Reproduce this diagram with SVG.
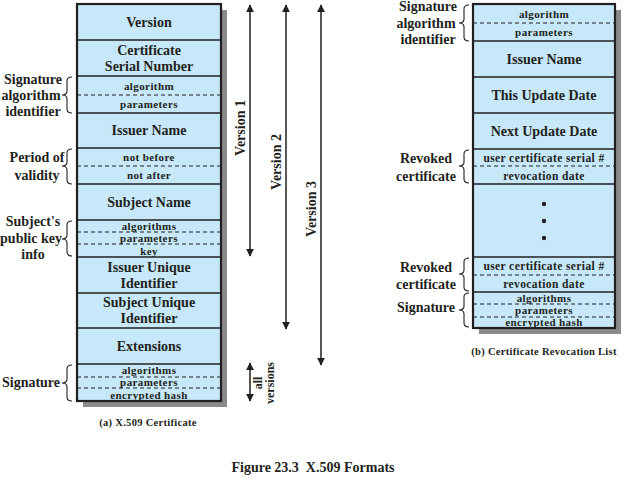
<svg xmlns="http://www.w3.org/2000/svg" width="625" height="481" viewBox="0 0 625 481">
<style>
.bg{fill:#ffffff}
.shadow{fill:#8a8a8a}
.cell{fill:#c6e8f8;stroke:none}
.outline{fill:none;stroke:#231f20;stroke-width:2.2}
.sep{stroke:#231f20;stroke-width:1.6}
.dash{stroke:#231f20;stroke-width:1.1;stroke-dasharray:4,3}
.t{font-family:"Liberation Serif","Times New Roman",serif;font-weight:bold;fill:#231f20;text-anchor:middle}
.big{font-size:14px}
.sm{font-size:11px;letter-spacing:0.4px}
.md{font-size:11.5px;letter-spacing:0.4px}
.lbl{font-size:14px}
.cap{font-size:10.5px;letter-spacing:0.3px}
.fig{font-size:14px}
.brace{fill:none;stroke:#231f20;stroke-width:1.1}
.arr{stroke:#231f20;stroke-width:1.5;fill:none}
</style>
<defs>
<marker id="ah" viewBox="0 0 10 10" refX="9" refY="5" markerWidth="8" markerHeight="8" markerUnits="userSpaceOnUse" orient="auto-start-reverse">
<path d="M0,0 L10,5 L0,10 z" fill="#231f20"/>
</marker>
</defs>
<rect class="bg" x="0" y="0" width="625" height="481"/>

<!-- Left: X.509 Certificate -->
<rect class="shadow" x="83" y="10" width="144" height="397"/>
<g id="cert-version"><rect class="cell" x="77" y="4" width="144" height="36"/><text class="t big" x="149" y="27">Version</text></g>
<g id="cert-serial"><rect class="cell" x="77" y="40" width="144" height="36"/><text class="t big" x="149" y="55">Certificate</text><text class="t big" x="149" y="71">Serial Number</text></g>
<g id="cert-sigalg"><rect class="cell" x="77" y="76" width="144" height="37"/><text class="t sm" x="149" y="90">algorithm</text><text class="t sm" x="149" y="108">parameters</text></g>
<g id="cert-issuer"><rect class="cell" x="77" y="113" width="144" height="35"/><text class="t big" x="149" y="135">Issuer Name</text></g>
<g id="cert-validity"><rect class="cell" x="77" y="148" width="144" height="36"/><text class="t sm" x="149" y="161">not before</text><text class="t sm" x="149" y="179">not after</text></g>
<g id="cert-subject"><rect class="cell" x="77" y="184" width="144" height="36"/><text class="t big" x="149" y="207">Subject Name</text></g>
<g id="cert-pubkey"><rect class="cell" x="77" y="220" width="144" height="37"/><text class="t sm" x="149" y="230">algorithms</text><text class="t sm" x="149" y="242">parameters</text><text class="t sm" x="149" y="255">key</text></g>
<g id="cert-issuerid"><rect class="cell" x="77" y="257" width="144" height="36"/><text class="t big" x="149" y="272">Issuer Unique</text><text class="t big" x="149" y="288">Identifier</text></g>
<g id="cert-subjectid"><rect class="cell" x="77" y="293" width="144" height="35"/><text class="t big" x="149" y="307">Subject Unique</text><text class="t big" x="149" y="323">Identifier</text></g>
<g id="cert-ext"><rect class="cell" x="77" y="328" width="144" height="36"/><text class="t big" x="149" y="351">Extensions</text></g>
<g id="cert-sig"><rect class="cell" x="77" y="364" width="144" height="37"/><text class="t sm" x="149" y="374">algorithms</text><text class="t sm" x="149" y="386">parameters</text><text class="t sm" x="149" y="399">encrypted hash</text></g>
<g id="cert-lines">
<line class="sep" x1="77" y1="40" x2="221" y2="40"/>
<line class="sep" x1="77" y1="76" x2="221" y2="76"/>
<line class="dash" x1="77" y1="95" x2="221" y2="95"/>
<line class="sep" x1="77" y1="113" x2="221" y2="113"/>
<line class="sep" x1="77" y1="148" x2="221" y2="148"/>
<line class="dash" x1="77" y1="166" x2="221" y2="166"/>
<line class="sep" x1="77" y1="184" x2="221" y2="184"/>
<line class="sep" x1="77" y1="220" x2="221" y2="220"/>
<line class="dash" x1="77" y1="232" x2="221" y2="232"/>
<line class="dash" x1="77" y1="244" x2="221" y2="244"/>
<line class="sep" x1="77" y1="257" x2="221" y2="257"/>
<line class="sep" x1="77" y1="293" x2="221" y2="293"/>
<line class="sep" x1="77" y1="328" x2="221" y2="328"/>
<line class="sep" x1="77" y1="364" x2="221" y2="364"/>
<line class="dash" x1="77" y1="377" x2="221" y2="377"/>
<line class="dash" x1="77" y1="388" x2="221" y2="388"/>
<rect class="outline" x="77" y="4" width="144" height="397"/>
</g>

<!-- Left side labels -->
<g id="lbl-sigalg"><text class="t lbl" x="33" y="84">Signature</text><text class="t lbl" x="31" y="100">algorithm</text><text class="t lbl" x="33" y="116">identifier</text>
<path class="brace" d="M72,77 Q67,77 67,81 L67,91 Q67,95 62,95 Q67,95 67,99 L67,109 Q67,113 72,113"/></g>
<g id="lbl-validity"><text class="t lbl" x="37" y="162">Period of</text><text class="t lbl" x="37" y="180">validity</text>
<path class="brace" d="M72,149 Q67,149 67,153 L67,162 Q67,166 62,166 Q67,166 67,170 L67,180 Q67,184 72,184"/></g>
<g id="lbl-pubkey"><text class="t lbl" x="33" y="226">Subject's</text><text class="t lbl" x="31" y="243">public key</text><text class="t lbl" x="33" y="259">info</text>
<path class="brace" d="M72,221 Q67,221 67,225 L67,235 Q67,239 62,239 Q67,239 67,243 L67,252 Q67,256 72,256"/></g>
<g id="lbl-sig"><text class="t lbl" x="31" y="387">Signature</text>
<path class="brace" d="M72,365 Q67,365 67,369 L67,379 Q67,383 62,383 Q67,383 67,387 L67,397 Q67,401 72,401"/></g>

<!-- Version arrows -->
<g id="connectors">
<line class="arr" x1="250" y1="5" x2="250" y2="256" marker-start="url(#ah)" marker-end="url(#ah)"/>
<line class="arr" x1="286" y1="5" x2="286" y2="329" marker-start="url(#ah)" marker-end="url(#ah)"/>
<line class="arr" x1="321" y1="5" x2="321" y2="365" marker-start="url(#ah)" marker-end="url(#ah)"/>
<line class="arr" x1="250" y1="363" x2="250" y2="401" marker-start="url(#ah)" marker-end="url(#ah)"/>
</g>
<g id="version-labels">
<text class="t big" transform="translate(245,128) rotate(-90)">Version 1</text>
<text class="t big" transform="translate(281,162) rotate(-90)">Version 2</text>
<text class="t big" transform="translate(316,209) rotate(-90)">Version 3</text>
<text class="t" transform="translate(262,383) rotate(-90)" style="font-size:12px">all</text>
<text class="t" transform="translate(274,383) rotate(-90)" style="font-size:12px">versions</text>
</g>
<text id="cap-a" class="t cap" x="148" y="426">(a) X.509 Certificate</text>

<!-- Right: CRL -->
<rect class="shadow" x="479" y="10" width="142" height="324"/>
<g id="crl-sigalg"><rect class="cell" x="473" y="4" width="142" height="37"/><text class="t sm" x="544" y="18">algorithm</text><text class="t sm" x="544" y="36">parameters</text></g>
<g id="crl-issuer"><rect class="cell" x="473" y="41" width="142" height="36"/><text class="t big" x="544" y="64">Issuer Name</text></g>
<g id="crl-this"><rect class="cell" x="473" y="77" width="142" height="36"/><text class="t big" x="544" y="100">This Update Date</text></g>
<g id="crl-next"><rect class="cell" x="473" y="113" width="142" height="36"/><text class="t big" x="544" y="136">Next Update Date</text></g>
<g id="crl-rev1"><rect class="cell" x="473" y="149" width="142" height="35"/><text class="t md" x="544" y="162">user certificate serial #</text><text class="t md" x="544" y="180">revocation date</text></g>
<g id="crl-dots"><rect class="cell" x="473" y="184" width="142" height="73"/>
<circle cx="544" cy="204" r="2.2" fill="#231f20"/><circle cx="544" cy="221" r="2.2" fill="#231f20"/><circle cx="544" cy="238" r="2.2" fill="#231f20"/></g>
<g id="crl-rev2"><rect class="cell" x="473" y="257" width="142" height="35"/><text class="t md" x="544" y="270">user certificate serial #</text><text class="t md" x="544" y="288">revocation date</text></g>
<g id="crl-sig"><rect class="cell" x="473" y="292" width="142" height="36"/><text class="t sm" x="544" y="302">algorithms</text><text class="t sm" x="544" y="314">parameters</text><text class="t sm" x="544" y="326">encrypted hash</text></g>
<g id="crl-lines">
<line class="dash" x1="473" y1="23" x2="615" y2="23"/>
<line class="sep" x1="473" y1="41" x2="615" y2="41"/>
<line class="sep" x1="473" y1="77" x2="615" y2="77"/>
<line class="sep" x1="473" y1="113" x2="615" y2="113"/>
<line class="sep" x1="473" y1="149" x2="615" y2="149"/>
<line class="dash" x1="473" y1="166" x2="615" y2="166"/>
<line class="sep" x1="473" y1="184" x2="615" y2="184"/>
<line class="sep" x1="473" y1="257" x2="615" y2="257"/>
<line class="dash" x1="473" y1="275" x2="615" y2="275"/>
<line class="sep" x1="473" y1="292" x2="615" y2="292"/>
<line class="dash" x1="473" y1="304" x2="615" y2="304"/>
<line class="dash" x1="473" y1="317" x2="615" y2="317"/>
<rect class="outline" x="473" y="4" width="142" height="324"/>
</g>

<!-- Right side labels -->
<g id="rlbl-sigalg"><text class="t lbl" x="428" y="11">Signature</text><text class="t lbl" x="426" y="28">algorithm</text><text class="t lbl" x="428" y="44">identifier</text>
<path class="brace" d="M469,5 Q464,5 464,9 L464,19 Q464,23 459,23 Q464,23 464,27 L464,37 Q464,41 469,41"/></g>
<g id="rlbl-rev1"><text class="t lbl" x="426" y="163">Revoked</text><text class="t lbl" x="426" y="181">certificate</text>
<path class="brace" d="M469,150 Q464,150 464,154 L464,162 Q464,166 459,166 Q464,166 464,170 L464,179 Q464,183 469,183"/></g>
<g id="rlbl-rev2"><text class="t lbl" x="426" y="272">Revoked</text><text class="t lbl" x="426" y="289">certificate</text>
<path class="brace" d="M469,258 Q464,258 464,262 L464,270 Q464,274 459,274 Q464,274 464,278 L464,287 Q464,291 469,291"/></g>
<g id="rlbl-sig"><text class="t lbl" x="426" y="312">Signature</text>
<path class="brace" d="M469,293 Q464,293 464,297 L464,306 Q464,310 459,310 Q464,310 464,314 L464,323 Q464,327 469,327"/></g>
<text id="cap-b" class="t cap" x="544" y="355">(b) Certificate Revocation List</text>

<text id="fig-cap" class="t fig" x="313" y="472" xml:space="preserve">Figure 23.3  X.509 Formats</text>
</svg>
